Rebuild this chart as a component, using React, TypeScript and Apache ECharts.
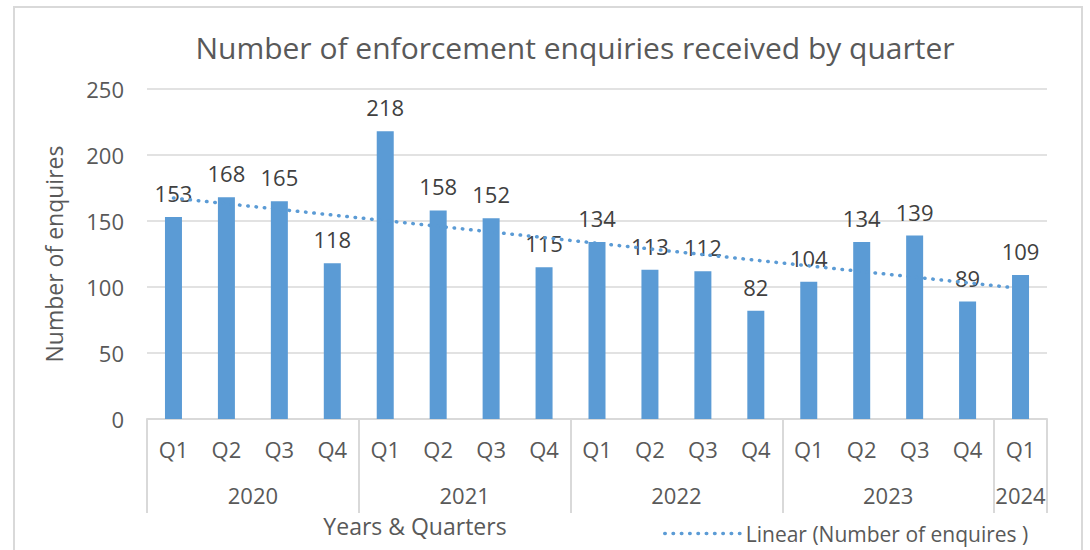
import React, { useEffect, useRef } from 'react';
import * as echarts from 'echarts';

const quarters = ['Q1', 'Q2', 'Q3', 'Q4', 'Q1', 'Q2', 'Q3', 'Q4', 'Q1', 'Q2', 'Q3', 'Q4', 'Q1', 'Q2', 'Q3', 'Q4', 'Q1'];
const quarterYears = ['2020', '2020', '2020', '2020', '2021', '2021', '2021', '2021', '2022', '2022', '2022', '2022', '2023', '2023', '2023', '2023', '2024'];
const enquiries = [153, 168, 165, 118, 218, 158, 152, 115, 134, 113, 112, 82, 104, 134, 139, 89, 109];
const trendEnds = [167.4, 98.9];

const titleText = 'Number of enforcement enquiries received by quarter';
const yAxisTitle = 'Number of enquires';
const xAxisTitle = 'Years & Quarters';
const trendName = 'Linear (Number of enquires )';

const FONT = 'Open Sans';
const TEXT = '#595959';
const LABEL = '#404040';
const BLUE = '#5B9BD5';
const GRID = '#D9D9D9';

export default function App() {
  const ref = useRef<HTMLDivElement>(null);
  useEffect(() => {
    document.body.style.margin = '0';
    if (!ref.current) return;
    const chart = echarts.init(ref.current, null, { renderer: 'svg' });

    const categories = quarters.map((q, i) => `${quarterYears[i]} ${q}`);
    // center of each year group in category units
    const yearCenters: { year: string; pos: number }[] = [];
    quarterYears.forEach((y, i) => {
      const found = yearCenters.find((g) => g.year === y);
      if (!found) {
        const count = quarterYears.filter((v) => v === y).length;
        yearCenters.push({ year: y, pos: i + count / 2 });
      }
    });
    const trendData = enquiries.map((_, i) =>
      i === 0 ? trendEnds[0] : i === enquiries.length - 1 ? trendEnds[1] : null
    );

    chart.setOption({
      animation: false,
      backgroundColor: '#ffffff',
      textStyle: { fontFamily: FONT },
      title: [
        {
          text: titleText,
          left: 570,
          top: 27,
          textAlign: 'center',
          textStyle: { fontFamily: FONT, fontSize: 30, fontWeight: 'normal', color: TEXT },
        },
        {
          text: xAxisTitle,
          left: 410,
          top: 509,
          textAlign: 'center',
          textStyle: { fontFamily: FONT, fontSize: 23, fontWeight: 'normal', color: TEXT },
        },
      ],
      legend: {
        data: [trendName],
        left: 658,
        top: 518,
        itemWidth: 76,
        itemHeight: 14,
        itemGap: 10,
        itemStyle: { opacity: 0 },
        lineStyle: { color: BLUE, width: 3.5, type: [0.5, 7.8], cap: 'round', opacity: 1 },
        textStyle: { fontFamily: FONT, fontSize: 21, color: TEXT },
      },
      grid: { left: 147, right: 43, top: 89, bottom: 131, containLabel: false },
      xAxis: [
        {
          type: 'category',
          data: categories,
          axisLine: { show: true, lineStyle: { color: GRID, width: 2 } },
          axisTick: {
            show: true,
            interval: (i: number) => quarterYears[i] !== quarterYears[i - 1],
            length: 94,
            lineStyle: { color: GRID, width: 2 },
          },
          axisLabel: {
            interval: 0,
            margin: 19,
            fontFamily: FONT,
            fontSize: 22,
            color: TEXT,
            formatter: (_v: string, i: number) => quarters[i],
          },
        },
        {
          type: 'value',
          position: 'bottom',
          min: 0,
          max: quarters.length,
          interval: 0.5,
          axisLine: { show: false },
          axisTick: { show: false },
          splitLine: { show: false },
          axisLabel: {
            margin: 65,
            fontFamily: FONT,
            fontSize: 22,
            color: TEXT,
            showMinLabel: true,
            showMaxLabel: true,
            formatter: (v: number) => {
              const g = yearCenters.find((c) => Math.abs(c.pos - v) < 1e-6);
              return g ? g.year : '';
            },
          },
        },
      ],
      yAxis: {
        type: 'value',
        min: 0,
        max: 250,
        interval: 50,
        name: yAxisTitle,
        nameLocation: 'middle',
        nameRotate: 90,
        nameGap: 82,
        nameTextStyle: { fontFamily: FONT, fontSize: 23, color: TEXT },
        axisLine: { show: false },
        axisTick: { show: false },
        axisLabel: { margin: 23, fontFamily: FONT, fontSize: 22, color: TEXT },
        splitLine: { lineStyle: { color: GRID, width: 1.5 } },
      },
      graphic: [
        {
          type: 'rect',
          shape: { x: 14, y: 7, width: 1068, height: 600 },
          style: { fill: 'none', stroke: GRID, lineWidth: 2 },
          silent: true,
          z: -1,
        },
      ],
      series: [
        {
          name: 'Number of enquires',
          type: 'bar',
          data: enquiries,
          barWidth: 17,
          itemStyle: { color: BLUE },
          label: {
            show: true,
            position: 'top',
            distance: 13,
            fontFamily: FONT,
            fontSize: 22,
            color: LABEL,
          },
          z: 2,
        },
        {
          name: trendName,
          type: 'line',
          data: trendData,
          connectNulls: true,
          symbol: 'none',
          lineStyle: { color: BLUE, width: 3.5, type: [0.5, 7.8], cap: 'round' },
          itemStyle: { color: BLUE },
          z: 3,
        },
      ],
    });
    return () => chart.dispose();
  }, []);
  return <div ref={ref} style={{ width: 1090, height: 550 }} />;
}
